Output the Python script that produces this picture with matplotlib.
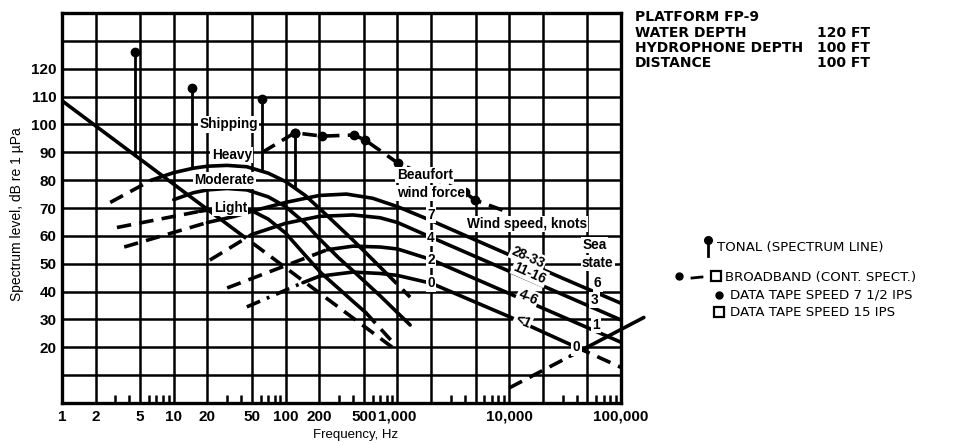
import matplotlib
matplotlib.use("Agg")
import matplotlib.pyplot as plt
from matplotlib.ticker import LogLocator, NullFormatter, FixedLocator

# ---------------- data ----------------
x_ticks = [1, 2, 5, 10, 20, 50, 100, 200, 500, 1000, 2000, 5000, 10000, 20000, 50000, 100000]
x_tick_labels = ["1", "2", "5", "10", "20", "50", "100", "200", "500", "1,000", "", "", "10,000", "", "", "100,000"]
y_ticks = list(range(0, 150, 10))
y_tick_labels = ["", "", "20", "30", "40", "50", "60", "70", "80", "90", "100", "110", "120", "", ""]

# turbulence-like diagonal
diag_solid_f = [1, 35]
diag_solid_db = [108.5, 62.2]
diag_dash_f = [35, 900]
diag_dash_db = [62.2, 20]

# shipping curves
heavy_dash_f = [2.7, 6.3]
heavy_dash_db = [72, 80]
heavy_f = [6.3, 10, 15, 20, 30, 45, 70, 100, 150, 225, 400, 600, 800]
heavy_db = [80, 82.7, 84.3, 85, 85.3, 84.8, 82.5, 79.5, 74.5, 68, 58.5, 51.5, 46.5]
heavy_tail_f = [800, 1300]
heavy_tail_db = [46.5, 38]

moderate_f = [10, 15, 20, 30, 45, 70, 100, 150, 200, 300, 400, 700, 1300]
moderate_db = [73, 75.5, 76.5, 77, 76.5, 74, 70.5, 64.5, 59, 52, 47.5, 38.5, 28]

light_dash_f = [3.1, 17]
light_dash_db = [63, 68.8]
light_f = [17, 25, 35, 50, 70, 100, 150, 210, 300, 400, 520]
light_db = [68.8, 69.8, 70, 69, 66, 61, 53, 46.5, 41, 36.5, 32.5]
light_tail_f = [520, 950]
light_tail_db = [32.5, 21]

# wind curves (Beaufort 7, 4, 2, 0)
w7_dash_f = [3.6, 20]
w7_dash_db = [56, 64.8]
w7_f = [20, 35, 55, 100, 200, 350, 600, 1000, 2000, 5000, 10000, 30000, 100000]
w7_db = [64.8, 67, 69.3, 72, 74.5, 75, 73.5, 70.5, 65.5, 58.5, 53.2, 44.8, 35.8]

w4_dash_f = [21, 50]
w4_dash_db = [51.3, 60.5]
w4_f = [50, 100, 200, 400, 700, 1000, 2000, 10000, 100000]
w4_db = [60.5, 64.5, 67, 67.5, 66.5, 64.8, 59.5, 47.3, 29.8]

w2_dash_f = [30, 235]
w2_dash_db = [41.3, 55]
w2_f = [235, 400, 700, 1000, 2000, 10000, 100000]
w2_db = [55, 56.3, 56, 55.3, 51.5, 39.3, 21.8]

w0_dashdot_f = [45, 143]
w0_dashdot_db = [34.5, 43.2]
w0_f = [143, 200, 400, 700, 1000, 2000, 10000, 40000]
w0_db = [43.2, 45.5, 47, 46.5, 45.8, 43, 31, 20]
w0_tail_f = [40000, 100000]
w0_tail_db = [20, 12.8]

# thermal noise
thermal_dash_f = [10000, 35000]
thermal_dash_db = [5.4, 16.8]
thermal_f = [35000, 160000]
thermal_db = [16.8, 30.7]

# measured data
tonal_f = [4.5, 14.6, 61.7, 121]
tonal_top = [126, 113, 109, 97]
tonal_bottom = [88.9, 84.2, 83.2, 77.5]

broad_f = [62, 121, 212, 409, 514, 1012, 4000, 4900, 9600]
broad_db = [90, 97, 95.8, 96.2, 94.4, 86.1, 75.7, 72.9, 68.6]

# ---------------- figure ----------------
W, H = 958, 443
fig = plt.figure(figsize=(W / 100, H / 100), dpi=100)
ax = fig.add_axes([62 / W, 1 - 403 / H, (621 - 62) / W, (403 - 13) / H])
ax.set_xscale("log")
ax.set_xlim(1, 1e5)
ax.set_ylim(0, 140)

FONT = "Liberation Sans"
ax.xaxis.set_major_locator(FixedLocator(x_ticks))
ax.set_xticklabels(x_tick_labels, fontfamily=FONT, fontweight="bold", fontsize=11)
ax.xaxis.set_minor_locator(LogLocator(base=10, subs=(3, 4, 6, 7, 8, 9), numticks=20))
ax.xaxis.set_minor_formatter(NullFormatter())
ax.set_yticks(y_ticks)
ax.set_yticklabels(y_tick_labels, fontfamily=FONT, fontweight="bold", fontsize=11)
ax.tick_params(which="major", length=0, pad=5)
ax.tick_params(axis="y", which="major", pad=4)
ax.tick_params(which="minor", direction="in", length=6, width=1.8, color="k", top=False)
ax.grid(True, which="major", color="k", lw=1.8, zorder=1)
ax.set_axisbelow(True)
for s in ax.spines.values():
    s.set_linewidth(2.4)

LW = 2.6
DASH = (4, 2.3)


def solid(f, d, **kw):
    ax.plot(f, d, color="k", lw=LW, solid_capstyle="round", zorder=3, **kw)


def dashed(f, d, **kw):
    ax.plot(f, d, color="k", lw=LW, dashes=DASH, zorder=3, **kw)


solid(diag_solid_f, diag_solid_db)
dashed(diag_dash_f, diag_dash_db)

dashed(heavy_dash_f, heavy_dash_db)
solid(heavy_f, heavy_db)
dashed(heavy_tail_f, heavy_tail_db)
solid(moderate_f, moderate_db)
dashed(light_dash_f, light_dash_db)
solid(light_f, light_db)
dashed(light_tail_f, light_tail_db)

dashed(w7_dash_f, w7_dash_db)
solid(w7_f, w7_db)
dashed(w4_dash_f, w4_dash_db)
solid(w4_f, w4_db)
dashed(w2_dash_f, w2_dash_db)
solid(w2_f, w2_db)
ax.plot(w0_dashdot_f, w0_dashdot_db, color="k", lw=LW, dashes=(4, 2.0, 0.8, 2.0), zorder=3)
solid(w0_f, w0_db)
dashed(w0_tail_f, w0_tail_db)

dashed(thermal_dash_f, thermal_dash_db)
solid(thermal_f, thermal_db, clip_on=False)

# tonal lines
ax.vlines(tonal_f, tonal_bottom, tonal_top, color="k", lw=2.0, zorder=4)
ax.plot(tonal_f, tonal_top, "o", color="k", ms=6, zorder=5)

# broadband
ax.plot(broad_f, broad_db, color="k", lw=LW, dashes=DASH, zorder=4)
ax.plot(broad_f[1:-1], broad_db[1:-1], "o", color="k", ms=6, zorder=5)

# in-plot labels
box = dict(boxstyle="square,pad=0.1", fc="white", ec="none")
lab = dict(fontfamily=FONT, fontweight="bold", fontsize=9.8, ha="center", va="center", zorder=6)
ax.text(31, 100, "Shipping", bbox=box, **lab)
ax.text(33, 89, "Heavy", bbox=box, **lab)
ax.text(28.5, 80, "Moderate", bbox=box, **lab)
ax.text(32, 70, "Light", bbox=box, **lab)
ax.text(1760, 81.8, "Beaufort", bbox=box, **lab)
ax.text(2000, 75.4, "wind force", bbox=box, **lab)
ax.text(14300, 64.3, "Wind speed, knots", bbox=box, **lab)

for val, y in zip(["7", "4", "2", "0"], [67.5, 59.2, 51.3, 43]):
    ax.text(2000, y, val, bbox=box, **lab)

rot = -24
for val, f, y in zip(["28-33", "11-16", "4-6", "<1"], [14700, 15300, 14700, 13200], [52.4, 46.7, 38, 29.4]):
    ax.text(f, y, val, rotation=rot, rotation_mode="anchor", bbox=box, **lab)

ax.text(58000, 56.7, "Sea", bbox=box, **lab)
ax.text(62000, 50.3, "state", bbox=box, **lab)
for val, f, y in zip(["6", "3", "1", "0"], [62000, 58000, 60000, 40000], [43, 37, 28, 20]):
    ax.text(f, y, val, bbox=box, **lab)

# axis titles
fig.text(17 / W, 1 - 214 / H, "Spectrum level, dB re 1 µPa", rotation=90, ha="center", va="center",
         fontfamily=FONT, fontsize=10)
fig.text(356 / W, 1 - 435 / H, "Frequency, Hz", ha="center", va="center", fontfamily=FONT, fontsize=9.5)

# platform info
info = dict(fontfamily="DejaVu Sans", fontweight="bold", fontsize=10, va="center", ha="left")
fig.text(635 / W, 1 - 17 / H, "PLATFORM FP-9", **info)
rows = [("WATER DEPTH", "120 FT"), ("HYDROPHONE DEPTH", "100 FT"), ("DISTANCE", "100 FT")]
for i, (a, b) in enumerate(rows):
    yy = 1 - (33 + 15 * i) / H
    fig.text(635 / W, yy, a, **info)
    fig.text(817 / W, yy, b, **info)

# legend
leg = dict(fontfamily="DejaVu Sans", fontsize=9.6, va="center", ha="left")
tf = fig.transFigure
fig.add_artist(plt.Line2D([708 / W, 708 / W], [1 - 240 / H, 1 - 256 / H], color="k", lw=2.0, transform=tf))
fig.add_artist(plt.Line2D([708 / W], [1 - 240 / H], marker="o", ms=5.5, color="k", transform=tf))
fig.text(717 / W, 1 - 248 / H, "TONAL (SPECTRUM LINE)", **leg)

fig.add_artist(plt.Line2D([679 / W], [1 - 276 / H], marker="o", ms=5, color="k", transform=tf))
fig.add_artist(plt.Line2D([692 / W, 702 / W], [1 - 278 / H, 1 - 277 / H], color="k", lw=2.0, transform=tf))
fig.add_artist(plt.Line2D([716 / W], [1 - 276 / H], marker="s", ms=6.5, mfc="white", mec="k", mew=1.6,
                          color="k", transform=tf))
fig.text(725 / W, 1 - 277 / H, "BROADBAND (CONT. SPECT.)", **leg)

fig.add_artist(plt.Line2D([719 / W], [1 - 295 / H], marker="o", ms=5, color="k", transform=tf))
fig.text(730 / W, 1 - 295 / H, "DATA TAPE SPEED 7 1/2 IPS", **leg)
fig.add_artist(plt.Line2D([719 / W], [1 - 312 / H], marker="s", ms=6.5, mfc="white", mec="k", mew=1.6,
                          color="k", transform=tf))
fig.text(730 / W, 1 - 312 / H, "DATA TAPE SPEED 15 IPS", **leg)

fig.savefig("out.png", dpi=100)
